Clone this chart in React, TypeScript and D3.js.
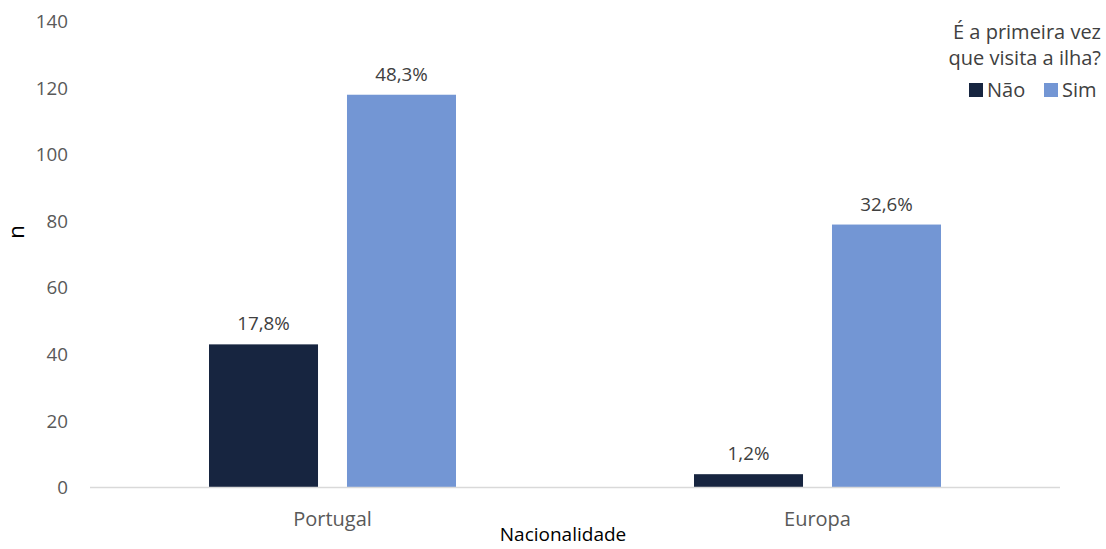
import React, { useEffect, useRef } from "react";
import * as d3 from "d3";

const categories = ["Portugal", "Europa"];
const series = ["Não", "Sim"];
const naoValues = [43, 4];
const simValues = [118, 79];
const naoLabels = ["17,8%", "1,2%"];
const simLabels = ["48,3%", "32,6%"];
const yTicks = [0, 20, 40, 60, 80, 100, 120, 140];
const colors = ["#172540", "#7396d4"];

const W = 1106;
const H = 549;
const FONT = "'Open Sans', 'DejaVu Sans', sans-serif";
const NUM = 18.8;
const WORD = 20;

const App = () => {
  const ref = useRef<SVGSVGElement>(null);

  useEffect(() => {
    const svg = d3.select(ref.current);
    svg.selectAll("*").remove();

    const x0 = d3.scaleBand().domain(categories).range([90, 1060]);
    const x1 = d3.scaleBand().domain(series).range([0, 247]).paddingInner(0.21);
    const y = d3.scaleLinear().domain([0, 140]).range([487.5, 21.5]);

    // y tick labels
    svg.append("g")
      .selectAll("text")
      .data(yTicks)
      .join("text")
      .attr("x", 68)
      .attr("y", (d) => y(d))
      .attr("dy", "0.35em")
      .attr("text-anchor", "end")
      .attr("font-family", FONT)
      .attr("font-size", NUM)
      .attr("fill", "#595959")
      .text((d) => d);

    const rows = categories.map((c, i) => ({
      cat: c,
      vals: [
        { s: "Não", v: naoValues[i], label: naoLabels[i], color: colors[0] },
        { s: "Sim", v: simValues[i], label: simLabels[i], color: colors[1] },
      ],
    }));

    const g = svg.append("g")
      .selectAll("g")
      .data(rows)
      .join("g")
      .attr("transform", (d) => `translate(${x0(d.cat)! + (x0.bandwidth() - 247) / 2},0)`);

    g.selectAll("rect")
      .data((d) => d.vals)
      .join("rect")
      .attr("x", (d) => x1(d.s)!)
      .attr("y", (d) => y(d.v))
      .attr("width", x1.bandwidth())
      .attr("height", (d) => y(0) - y(d.v))
      .attr("fill", (d) => d.color);

    g.selectAll("text")
      .data((d) => d.vals)
      .join("text")
      .attr("x", (d) => x1(d.s)! + x1.bandwidth() / 2)
      .attr("y", (d) => y(d.v) - 14)
      .attr("text-anchor", "middle")
      .attr("font-family", FONT)
      .attr("font-size", NUM)
      .attr("fill", "#404040")
      .text((d) => d.label);

    // x axis line
    svg.append("line")
      .attr("x1", 90)
      .attr("x2", 1060)
      .attr("y1", y(0))
      .attr("y2", y(0))
      .attr("stroke", "#d9d9d9")
      .attr("stroke-width", 1.5);

    svg.append("g")
      .selectAll("text")
      .data(categories)
      .join("text")
      .attr("x", (d) => x0(d)! + x0.bandwidth() / 2)
      .attr("y", 526)
      .attr("text-anchor", "middle")
      .attr("font-family", FONT)
      .attr("font-size", WORD)
      .attr("fill", "#595959")
      .text((d) => d);

    // axis titles
    svg.append("text")
      .attr("x", 563)
      .attr("y", 541)
      .attr("text-anchor", "middle")
      .attr("font-family", FONT)
      .attr("font-size", 19)
      .attr("fill", "#000")
      .text("Nacionalidade");

    svg.append("text")
      .attr("transform", "translate(24,232) rotate(-90)")
      .attr("text-anchor", "middle")
      .attr("font-family", FONT)
      .attr("font-size", 22)
      .attr("fill", "#000")
      .text("n");

    // legend
    const leg = svg.append("g");
    leg.append("text")
      .attr("x", 1101)
      .attr("y", 39)
      .attr("text-anchor", "end")
      .attr("font-family", FONT)
      .attr("font-size", WORD)
      .attr("fill", "#404040")
      .text("É a primeira vez");
    leg.append("text")
      .attr("x", 1101)
      .attr("y", 65)
      .attr("text-anchor", "end")
      .attr("font-family", FONT)
      .attr("font-size", WORD)
      .attr("fill", "#404040")
      .text("que visita a ilha?");

    const legX = [969, 1044];
    series.forEach((s, i) => {
      leg.append("rect")
        .attr("x", legX[i])
        .attr("y", 83)
        .attr("width", 14)
        .attr("height", 14)
        .attr("fill", colors[i]);
      leg.append("text")
        .attr("x", legX[i] + 18)
        .attr("y", 97)
        .attr("font-family", FONT)
        .attr("font-size", WORD)
        .attr("fill", "#404040")
        .text(s);
    });
  }, []);

  return <svg ref={ref} width={W} height={H} style={{ display: "block", position: "absolute", left: 0, top: 0 }} />;
};

export default App;
